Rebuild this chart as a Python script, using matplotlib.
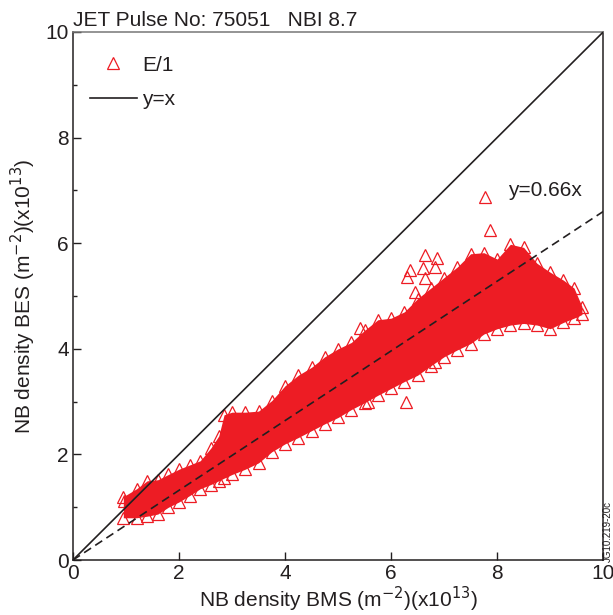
import matplotlib
matplotlib.use('Agg')
import matplotlib.pyplot as plt
from matplotlib.lines import Line2D

plt.rcParams['font.family'] = ['Liberation Sans', 'DejaVu Sans']

# envelope of the dense E/1 cloud (BMS vs BES, x10^13 m^-2)
bms_env = [0.95, 1.2, 1.4, 1.6, 1.8, 2.0, 2.2, 2.4, 2.6, 2.75, 2.85, 3.0, 3.25, 3.5,
           3.75, 4.0, 4.25, 4.5, 4.75, 5.0, 5.25, 5.5, 5.75, 6.0, 6.25, 6.5, 6.75,
           7.0, 7.25, 7.5, 7.75, 8.0, 8.25, 8.5, 8.75, 9.0, 9.25, 9.45, 9.6]
bes_high = [1.2, 1.35, 1.5, 1.52, 1.62, 1.72, 1.8, 1.88, 2.12, 2.35, 2.75, 2.8, 2.8, 2.82,
            3.02, 3.3, 3.5, 3.65, 3.85, 4.0, 4.12, 4.35, 4.55, 4.58, 4.7, 4.95, 5.15,
            5.35, 5.55, 5.8, 5.82, 5.7, 5.98, 5.92, 5.62, 5.45, 5.3, 5.15, 4.8]
bes_low = [0.8, 0.8, 0.83, 0.87, 1.0, 1.1, 1.22, 1.35, 1.43, 1.5, 1.55, 1.62, 1.72, 1.84,
           2.05, 2.2, 2.32, 2.45, 2.58, 2.7, 2.85, 2.98, 3.12, 3.25, 3.38, 3.5, 3.68,
           3.85, 3.98, 4.1, 4.28, 4.38, 4.45, 4.48, 4.45, 4.38, 4.5, 4.58, 4.65]

# isolated points outside the cloud
bms_out = [0.97, 5.42, 5.57, 6.28, 6.3, 6.36, 6.45, 6.6, 6.64, 6.64, 6.83, 6.87, 6.83, 7.77, 7.87]
bes_out = [1.12, 4.39, 2.99, 2.99, 5.36, 5.49, 5.08, 5.53, 5.78, 5.34, 5.55, 5.72, 3.75, 6.88, 6.25]

slope = 0.66
line_x = [0, 10]

red = '#ed1c24'
dark = '#231f20'
fs = 15

fig = plt.figure(figsize=(6.13, 6.15), dpi=100)
ax = fig.add_axes([0.119, 0.0894, 0.865, 0.8586])

ax.fill_between(bms_env, bes_low, bes_high, color=red, lw=0, zorder=2)
tri = dict(marker='^', ls='none', ms=8.5, mfc='none', mec=red, mew=0.9, zorder=3)
ax.plot(bms_env, bes_high, **tri)
ax.plot(bms_env, bes_low, **tri)
ax.plot(bms_out, bes_out, **tri)

ax.plot(line_x, line_x, color=dark, lw=1.2, zorder=4)
ax.plot(line_x, [slope * v for v in line_x], color=dark, lw=1.2, ls=(0, (5, 3)), zorder=4)
ax.text(8.2, 7.0, 'y=0.66x', fontsize=fs, color=dark, va='center')

ax.set_xlim(0, 10)
ax.set_ylim(0, 10)
ax.set_xticks([0, 2, 4, 6, 8, 10])
ax.set_yticks([0, 2, 4, 6, 8, 10])
ax.set_yticks([1, 3, 5, 7, 9], minor=True)
ax.tick_params(direction='in', length=6, width=1, colors=dark, labelsize=fs, pad=3)
ax.tick_params(which='minor', direction='in', length=3, width=1, colors=dark)
for s in ax.spines.values():
    s.set_color(dark)
    s.set_linewidth(1.1)
ax.spines['top'].set_color('#777777')

ax.set_xlabel('NB density BMS (m$^{-2}$)(x10$^{13}$)', fontsize=fs, color=dark, labelpad=1)
ax.set_ylabel('NB density BES (m$^{-2}$)(x10$^{13}$)', fontsize=fs, color=dark, labelpad=5)

handles = [Line2D([], [], marker='^', ls='none', ms=8.5, mfc='none', mec=red, mew=0.9),
           Line2D([], [], color=dark, lw=1.2)]
ax.legend(handles, ['E/1', 'y=x'], loc='upper left', bbox_to_anchor=(0.032, 0.955),
          frameon=False, fontsize=fs, handlelength=2.26, handletextpad=0.25,
          labelspacing=0.75, borderpad=0, borderaxespad=0, labelcolor=dark)

fig.text(0.119, 1 - 20 / 615, 'JET Pulse No: 75051   NBI 8.7', fontsize=fs,
         color=dark, va='center', ha='left')
fig.text(0.991, 0.135, 'JG10.219-20c', fontsize=7, color=dark, rotation=90,
         ha='center', va='center')

fig.savefig('out.png', dpi=100)
